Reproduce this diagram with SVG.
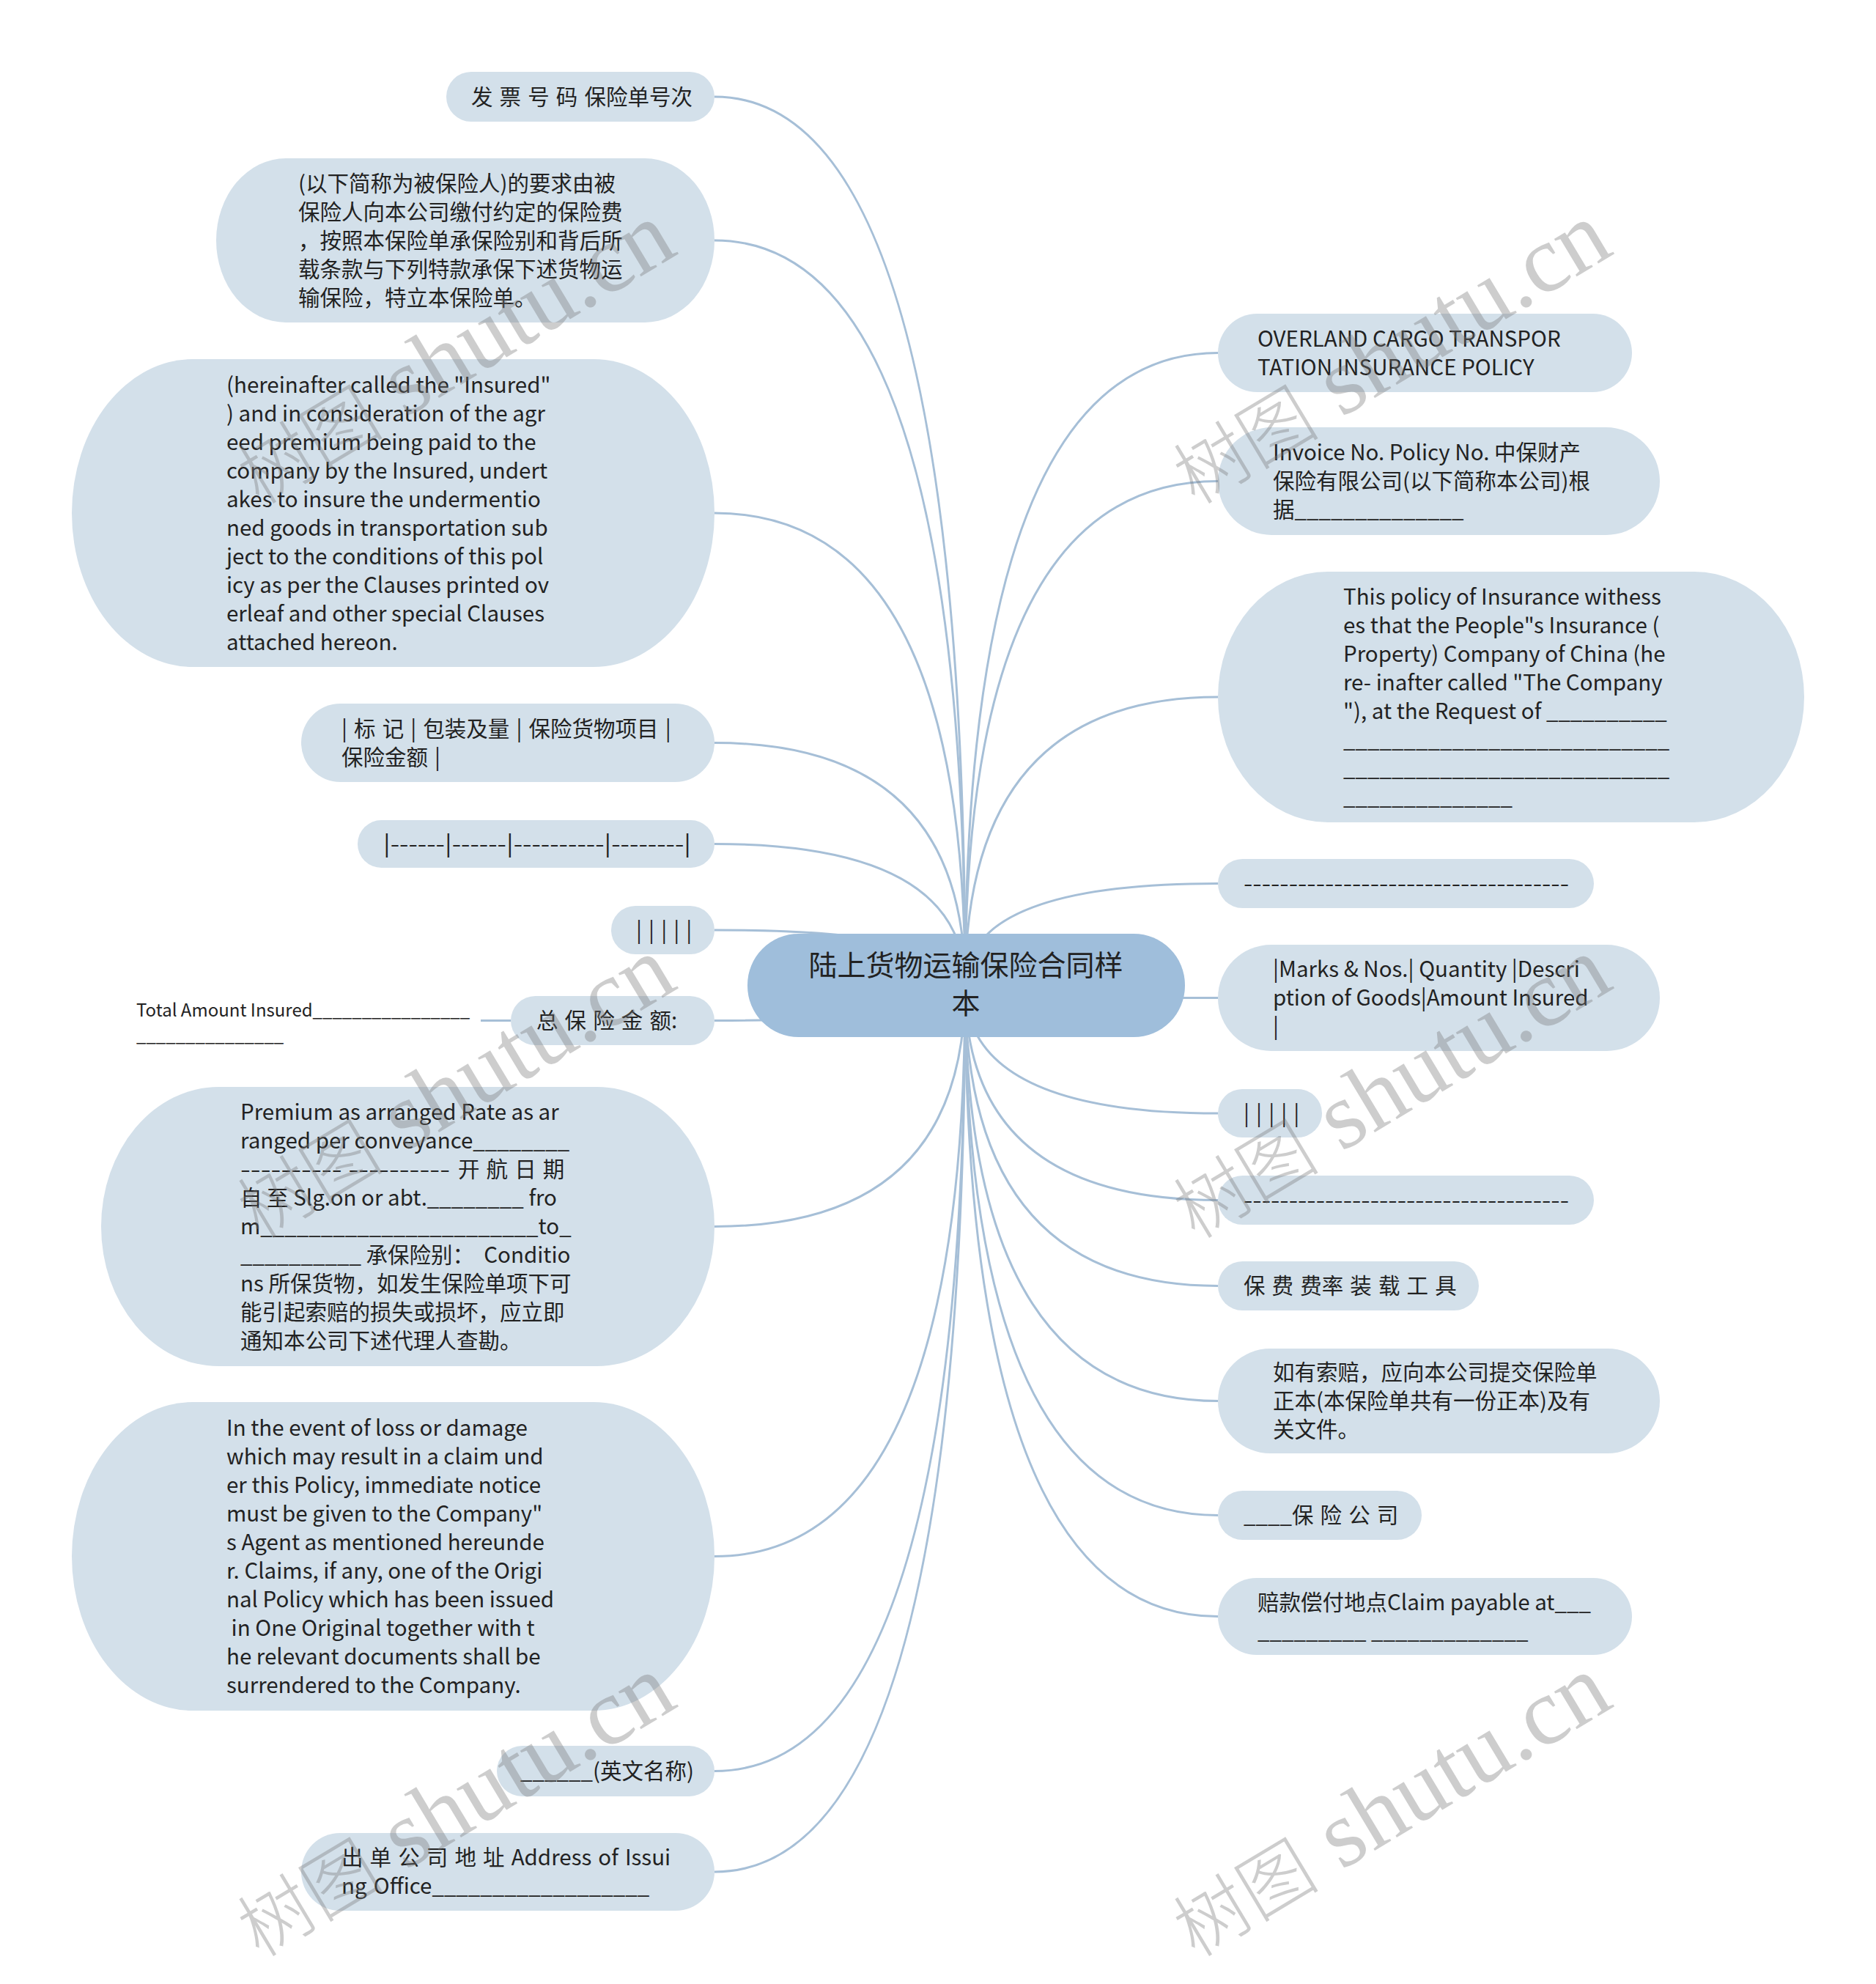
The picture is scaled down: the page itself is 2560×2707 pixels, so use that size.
<svg xmlns="http://www.w3.org/2000/svg" width="2560" height="2707" viewBox="0 0 2560 2707">
<style>
.n{fill:#d3e0ea}
.root{fill:#9fbedb}
.t{font-family:"Noto Sans CJK SC","Noto Sans",sans-serif;font-size:29.5px;fill:#222;white-space:pre}
.ws{word-spacing:2.5px}
.ts{font-size:24px}
.tr{font-size:39px}
.c{fill:none;stroke:#a6bfd7;stroke-width:3}
.wm{font-family:"Liberation Serif","Noto Sans CJK SC",serif;font-size:130px;fill:#777;opacity:0.36}
.wmc{font-family:"Noto Sans CJK SC",sans-serif;font-size:100px;font-weight:300}
</style>
<rect width="2560" height="2707" fill="#ffffff"/>
<g id="connectors">
<path class="c" d="M1317 1345 Q1317 132 975 132"/>
<path class="c" d="M1317 1345 Q1317 328 975 328"/>
<path class="c" d="M1317 1345 Q1317 700 975 700"/>
<path class="c" d="M1317 1345 Q1317 1013.5 975 1013.5"/>
<path class="c" d="M1317 1345 Q1317 1151.5 975 1151.5"/>
<path class="c" d="M1317 1345 Q1317 1269 975 1269"/>
<path class="c" d="M1317 1345 Q1317 1392.5 975 1392.5"/>
<path class="c" d="M1317 1345 Q1317 1673.5 975 1673.5"/>
<path class="c" d="M1317 1345 Q1317 2123.5 975 2123.5"/>
<path class="c" d="M1317 1345 Q1317 2416.5 975 2416.5"/>
<path class="c" d="M1317 1345 Q1317 2554 975 2554"/>
<path class="c" d="M1317 1345 Q1317 481.5 1662 481.5"/>
<path class="c" d="M1317 1345 Q1317 656.5 1662 656.5"/>
<path class="c" d="M1317 1345 Q1317 951 1662 951"/>
<path class="c" d="M1317 1345 Q1317 1205.5 1662 1205.5"/>
<path class="c" d="M1317 1345 Q1317 1361.5 1662 1361.5"/>
<path class="c" d="M1317 1345 Q1317 1519 1662 1519"/>
<path class="c" d="M1317 1345 Q1317 1637.5 1662 1637.5"/>
<path class="c" d="M1317 1345 Q1317 1754.5 1662 1754.5"/>
<path class="c" d="M1317 1345 Q1317 1911.5 1662 1911.5"/>
<path class="c" d="M1317 1345 Q1317 2067.5 1662 2067.5"/>
<path class="c" d="M1317 1345 Q1317 2205.5 1662 2205.5"/>
<path class="c" d="M697 1392.5 L656 1392.5"/>
</g>
<g id="root">
<rect class="root" x="1020" y="1274" width="597" height="141" rx="70"/>
<text class="t tr" text-anchor="middle"><tspan x="1318" y="1331">陆上货物运输保险合同样</tspan><tspan x="1318" y="1383">本</tspan></text>
</g>
<g id="L1">
<rect class="n" x="609" y="98" width="366" height="68" rx="34"/>
<text class="t ws" x="643" y="143">发 票 号 码 保险单号次</text>
</g>
<g id="L2">
<rect class="n" x="295" y="216" width="680" height="224" rx="95" ry="112"/>
<text class="t"><tspan x="407" y="261">(以下简称为被保险人)的要求由被</tspan><tspan x="407" y="300">保险人向本公司缴付约定的保险费</tspan><tspan x="407" y="339">，按照本保险单承保险别和背后所</tspan><tspan x="407" y="378">载条款与下列特款承保下述货物运</tspan><tspan x="407" y="417">输保险，特立本保险单。</tspan></text>
</g>
<g id="L3">
<rect class="n" x="98" y="490" width="877" height="420" rx="165" ry="210"/>
<text class="t"><tspan x="309" y="536">(hereinafter called the "Insured"</tspan><tspan x="309" y="575">) and in consideration of the agr</tspan><tspan x="309" y="614">eed premium being paid to the</tspan><tspan x="309" y="653">company by the Insured, undert</tspan><tspan x="309" y="692">akes to insure the undermentio</tspan><tspan x="309" y="731">ned goods in transportation sub</tspan><tspan x="309" y="770">ject to the conditions of this pol</tspan><tspan x="309" y="809">icy as per the Clauses printed ov</tspan><tspan x="309" y="848">erleaf and other special Clauses</tspan><tspan x="309" y="887">attached hereon.</tspan></text>
</g>
<g id="L4">
<rect class="n" x="411" y="960" width="564" height="107" rx="53.5"/>
<text class="t ws"><tspan x="466" y="1005">| 标 记 | 包装及量 | 保险货物项目 |</tspan><tspan x="466" y="1044">保险金额 |</tspan></text>
</g>
<g id="L5">
<rect class="n" x="488" y="1119" width="487" height="65" rx="32.5"/>
<text class="t" x="523" y="1162" textLength="420" lengthAdjust="spacingAndGlyphs">|------|------|----------|--------|</text>
</g>
<g id="L6">
<rect class="n" x="834" y="1236" width="141" height="66" rx="33"/>
<text class="t ws" x="868" y="1280">| | | | |</text>
</g>
<g id="L7">
<rect class="n" x="697" y="1359" width="278" height="67" rx="33.5"/>
<text class="t ws" x="732" y="1403">总 保 险 金 额:</text>
</g>
<g id="L7a">
<text class="t ts"><tspan x="186" y="1387">Total Amount Insured________________</tspan><tspan x="186" y="1421">_______________</tspan></text>
</g>
<g id="L8">
<rect class="n" x="138" y="1483" width="837" height="381" rx="160" ry="190.5"/>
<text class="t"><tspan x="328" y="1528">Premium as arranged Rate as ar</tspan><tspan x="328" y="1567">ranged per conveyance________</tspan></text>
<text class="t" x="328" y="1606" textLength="286" lengthAdjust="spacingAndGlyphs">---------- ----------</text>
<text class="t ws" x="625" y="1606">开 航 日 期</text>
<text class="t"><tspan x="328" y="1645">自 至 Slg.on or abt.________ fro</tspan><tspan x="328" y="1684">m_______________________to_</tspan><tspan x="328" y="1723">__________ 承保险别：  Conditio</tspan><tspan x="328" y="1762">ns 所保货物，如发生保险单项下可</tspan><tspan x="328" y="1801">能引起索赔的损失或损坏，应立即</tspan><tspan x="328" y="1840">通知本公司下述代理人查勘。</tspan></text>
</g>
<g id="L9">
<rect class="n" x="98" y="1913" width="877" height="421" rx="165" ry="210.5"/>
<text class="t"><tspan x="309" y="1959">In the event of loss or damage</tspan><tspan x="309" y="1998">which may result in a claim und</tspan><tspan x="309" y="2037">er this Policy, immediate notice</tspan><tspan x="309" y="2076">must be given to the Company"</tspan><tspan x="309" y="2115">s Agent as mentioned hereunde</tspan><tspan x="309" y="2154">r. Claims, if any, one of the Origi</tspan><tspan x="309" y="2193">nal Policy which has been issued</tspan><tspan x="309" y="2232"> in One Original together with t</tspan><tspan x="309" y="2271">he relevant documents shall be</tspan><tspan x="309" y="2310">surrendered to the Company.</tspan></text>
</g>
<g id="L10">
<rect class="n" x="678" y="2382" width="297" height="69" rx="34.5"/>
<text class="t" x="710" y="2427">______(英文名称)</text>
</g>
<g id="L11">
<rect class="n" x="411" y="2501" width="564" height="106" rx="53"/>
<text class="t ws"><tspan x="466" y="2545">出 单 公 司 地 址 Address of Issui</tspan><tspan x="466" y="2584">ng Office__________________</tspan></text>
</g>
<g id="R1">
<rect class="n" x="1662" y="428" width="565" height="107" rx="53.5"/>
<text class="t"><tspan x="1716" y="473">OVERLAND CARGO TRANSPOR</tspan><tspan x="1716" y="512">TATION INSURANCE POLICY</tspan></text>
</g>
<g id="R2">
<rect class="n" x="1662" y="583" width="603" height="147" rx="73.5"/>
<text class="t"><tspan x="1737" y="628">Invoice No. Policy No. 中保财产</tspan><tspan x="1737" y="667">保险有限公司(以下简称本公司)根</tspan><tspan x="1737" y="706">据______________</tspan></text>
</g>
<g id="R3">
<rect class="n" x="1662" y="780" width="800" height="342" rx="150" ry="171"/>
<text class="t"><tspan x="1833" y="825">This policy of Insurance withess</tspan><tspan x="1833" y="864">es that the People"s Insurance (</tspan><tspan x="1833" y="903">Property) Company of China (he</tspan><tspan x="1833" y="942">re- inafter called "The Company</tspan><tspan x="1833" y="981">"), at the Request of __________</tspan><tspan x="1833" y="1020">___________________________</tspan><tspan x="1833" y="1059">___________________________</tspan><tspan x="1833" y="1098">______________</tspan></text>
</g>
<g id="R4">
<rect class="n" x="1662" y="1172" width="513" height="67" rx="33.5"/>
<text class="t" x="1697" y="1216" textLength="444" lengthAdjust="spacingAndGlyphs">------------------------------------</text>
</g>
<g id="R5">
<rect class="n" x="1662" y="1289" width="603" height="145" rx="72.5"/>
<text class="t"><tspan x="1737" y="1333">|Marks &amp; Nos.| Quantity |Descri</tspan><tspan x="1737" y="1372">ption of Goods|Amount Insured</tspan><tspan x="1737" y="1411">|</tspan></text>
</g>
<g id="R6">
<rect class="n" x="1662" y="1486" width="142" height="66" rx="33"/>
<text class="t ws" x="1697" y="1530">| | | | |</text>
</g>
<g id="R7">
<rect class="n" x="1662" y="1604" width="513" height="67" rx="33.5"/>
<text class="t" x="1697" y="1648" textLength="444" lengthAdjust="spacingAndGlyphs">------------------------------------</text>
</g>
<g id="R8">
<rect class="n" x="1662" y="1721" width="356" height="67" rx="33.5"/>
<text class="t ws" x="1697" y="1765">保 费 费率 装 载 工 具</text>
</g>
<g id="R9">
<rect class="n" x="1662" y="1840" width="603" height="143" rx="71.5"/>
<text class="t"><tspan x="1737" y="1883">如有索赔，应向本公司提交保险单</tspan><tspan x="1737" y="1922">正本(本保险单共有一份正本)及有</tspan><tspan x="1737" y="1961">关文件。</tspan></text>
</g>
<g id="R10">
<rect class="n" x="1662" y="2034" width="278" height="67" rx="33.5"/>
<text class="t ws" x="1697" y="2078">____保 险 公 司</text>
</g>
<g id="R11">
<rect class="n" x="1662" y="2153" width="565" height="105" rx="52.5"/>
<text class="t"><tspan x="1716" y="2197">赔款偿付地点Claim payable at___</tspan><tspan x="1716" y="2236">_________ _____________</tspan></text>
</g>
<g id="watermarks">
<text class="wm" transform="translate(354 690) rotate(-31)"><tspan class="wmc">树图</tspan> shutu.cn</text>
<text class="wm" transform="translate(1631 690) rotate(-31)"><tspan class="wmc">树图</tspan> shutu.cn</text>
<text class="wm" transform="translate(354 1692) rotate(-31)"><tspan class="wmc">树图</tspan> shutu.cn</text>
<text class="wm" transform="translate(1631 1692) rotate(-31)"><tspan class="wmc">树图</tspan> shutu.cn</text>
<text class="wm" transform="translate(354 2672) rotate(-31)"><tspan class="wmc">树图</tspan> shutu.cn</text>
<text class="wm" transform="translate(1631 2672) rotate(-31)"><tspan class="wmc">树图</tspan> shutu.cn</text>
</g>
</svg>
